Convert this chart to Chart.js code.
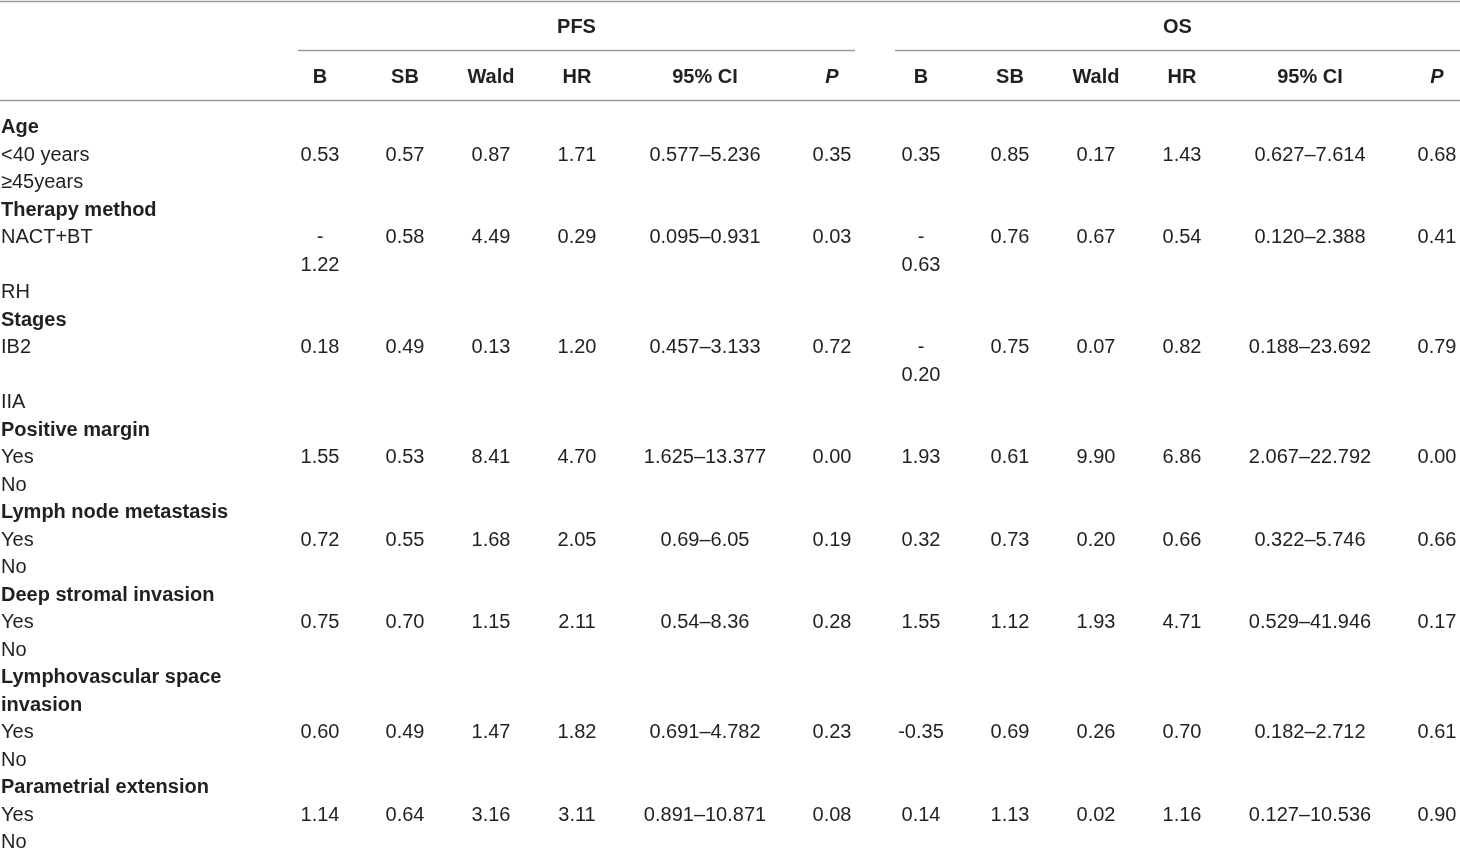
<!DOCTYPE html>
<html>
<head>
<meta charset="utf-8">
<script src="https://cdn.jsdelivr.net/npm/chart.js@4"></script>
<style>
  html, body { margin: 0; padding: 0; background: #fff; }
  canvas { display: block; }
</style>
</head>
<body>
<canvas id="tbl" width="1460" height="848"></canvas>
<script>
// ---- data ----
const groups = ['PFS', 'OS'];
const columns = ['B', 'SB', 'Wald', 'HR', '95% CI', 'P'];

// row labels, one per text line; bold = group heading
const rowLabels = [
  'Age', '<40 years', '≥45years',
  'Therapy method', 'NACT+BT', '', 'RH',
  'Stages', 'IB2', '', 'IIA',
  'Positive margin', 'Yes', 'No',
  'Lymph node metastasis', 'Yes', 'No',
  'Deep stromal invasion', 'Yes', 'No',
  'Lymphovascular space', 'invasion', 'Yes', 'No',
  'Parametrial extension', 'Yes', 'No'
];
const boldRows = [0, 3, 7, 11, 14, 17, 20, 21, 24];

// line on which each row of values sits
const valueRows = [1, 4, 8, 12, 15, 18, 22, 25];

// "\n" marks where the original cell wrapped
const pfsValues = [
  ['0.53', '0.57', '0.87', '1.71', '0.577–5.236', '0.35'],
  ['-\n1.22', '0.58', '4.49', '0.29', '0.095–0.931', '0.03'],
  ['0.18', '0.49', '0.13', '1.20', '0.457–3.133', '0.72'],
  ['1.55', '0.53', '8.41', '4.70', '1.625–13.377', '0.00'],
  ['0.72', '0.55', '1.68', '2.05', '0.69–6.05', '0.19'],
  ['0.75', '0.70', '1.15', '2.11', '0.54–8.36', '0.28'],
  ['0.60', '0.49', '1.47', '1.82', '0.691–4.782', '0.23'],
  ['1.14', '0.64', '3.16', '3.11', '0.891–10.871', '0.08']
];
const osValues = [
  ['0.35', '0.85', '0.17', '1.43', '0.627–7.614', '0.68'],
  ['-\n0.63', '0.76', '0.67', '0.54', '0.120–2.388', '0.41'],
  ['-\n0.20', '0.75', '0.07', '0.82', '0.188–23.692', '0.79'],
  ['1.93', '0.61', '9.90', '6.86', '2.067–22.792', '0.00'],
  ['0.32', '0.73', '0.20', '0.66', '0.322–5.746', '0.66'],
  ['1.55', '1.12', '1.93', '4.71', '0.529–41.946', '0.17'],
  ['-0.35', '0.69', '0.26', '0.70', '0.182–2.712', '0.61'],
  ['0.14', '1.13', '0.02', '1.16', '0.127–10.536', '0.90']
];

// ---- layout (x in px units of the x scale, y in text lines) ----
const colCenters = [
  [320, 405, 491, 577, 705, 832],
  [921, 1010, 1096, 1182, 1310, 1437]
];
const groupSpans = [[298, 855], [895, 1460]];
const labelX = 1;
const groupHeadY = -3.63;
const colHeadY = -1.81;
const ruleTopY = -4.56;
const ruleMidY = -2.76;
const ruleHeadY = -0.945;
const textNudge = 1.5; // px, baseline tweak

const textColor = '#231f20';
const ruleColor = '#9a9a9a';
const fontFam = '"Liberation Sans", Arial, Helvetica, sans-serif';

// one invisible point per cell, so every cell is placed by the scales
function cellPoints() {
  const pts = [];
  rowLabels.forEach((t, i) => {
    if (t) pts.push({ x: labelX, y: i, text: t, align: 'left', bold: boldRows.includes(i) });
  });
  groups.forEach((g, gi) => {
    const x0 = groupSpans[gi][0], x1 = groupSpans[gi][1];
    pts.push({ x: (x0 + x1) / 2, y: groupHeadY, text: g, align: 'center', bold: true });
    columns.forEach((c, ci) => {
      pts.push({ x: colCenters[gi][ci], y: colHeadY, text: c, align: 'center', bold: true, italic: c === 'P' });
    });
    const vals = gi === 0 ? pfsValues : osValues;
    vals.forEach((row, ri) => {
      row.forEach((v, ci) => {
        pts.push({ x: colCenters[gi][ci], y: valueRows[ri], text: v, align: 'center', bold: false });
      });
    });
  });
  return pts;
}

const tablePlugin = {
  id: 'tableText',
  beforeDatasetsDraw(chart) {
    const { ctx, scales: { x, y } } = chart;
    ctx.save();
    ctx.strokeStyle = ruleColor;
    ctx.lineWidth = 1.5;
    const hline = (a, b, yy) => {
      const py = Math.round(y.getPixelForValue(yy)) + 0.5;
      ctx.beginPath();
      ctx.moveTo(x.getPixelForValue(a), py);
      ctx.lineTo(x.getPixelForValue(b), py);
      ctx.stroke();
    };
    hline(0, 1460, ruleTopY);
    groupSpans.forEach(s => hline(s[0], s[1], ruleMidY));
    hline(0, 1460, ruleHeadY);
    ctx.restore();
  },
  afterDatasetsDraw(chart) {
    const { ctx } = chart;
    const meta = chart.getDatasetMeta(0);
    const ds = chart.data.datasets[0].data;
    const lineH = Math.abs(chart.scales.y.getPixelForValue(1) - chart.scales.y.getPixelForValue(0));
    ctx.save();
    ctx.fillStyle = textColor;
    ctx.textBaseline = 'middle';
    meta.data.forEach((el, i) => {
      const d = ds[i];
      ctx.font = (d.italic ? 'italic ' : '') + (d.bold ? 'bold ' : '') + '20px ' + fontFam;
      ctx.textAlign = d.align;
      d.text.split('\n').forEach((part, k) => {
        ctx.fillText(part, el.x, el.y + textNudge + k * lineH);
      });
    });
    ctx.restore();
  }
};

new Chart(document.getElementById('tbl'), {
  type: 'scatter',
  data: {
    datasets: [{
      data: cellPoints(),
      pointRadius: 0,
      pointHoverRadius: 0
    }]
  },
  options: {
    responsive: false,
    animation: false,
    events: [],
    layout: { padding: 0 },
    plugins: { legend: { display: false }, tooltip: { enabled: false } },
    scales: {
      x: { type: 'linear', display: false, min: 0, max: 1460 },
      y: { type: 'linear', display: false, reverse: true, min: -126 / 27.5, max: 722 / 27.5 }
    }
  },
  plugins: [tablePlugin]
});
</script>
</body>
</html>
